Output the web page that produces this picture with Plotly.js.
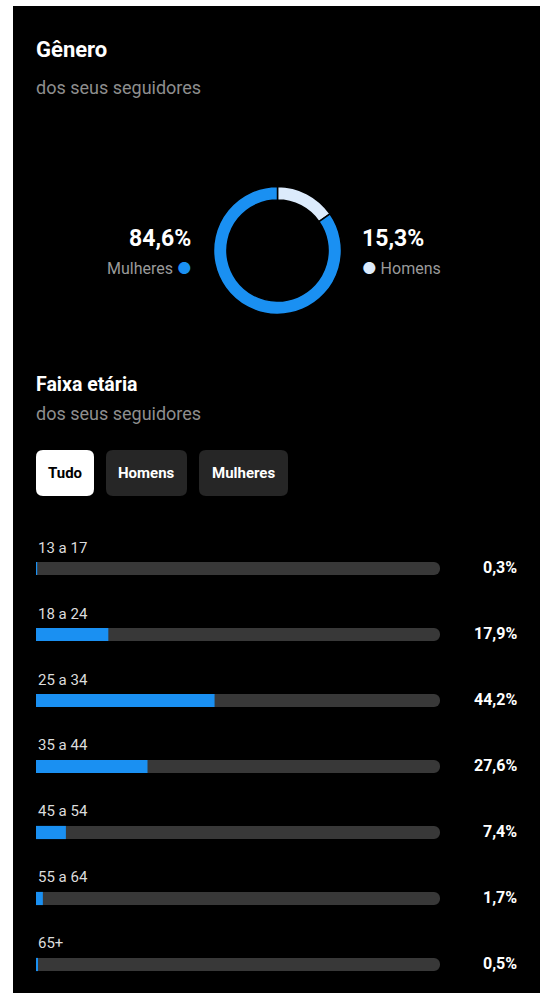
<!DOCTYPE html>
<html>
<head>
<meta charset="utf-8">
<script src="https://cdn.plot.ly/plotly-3.0.1.min.js"></script>
<style>
html,body{margin:0;padding:0;background:#ffffff;}
#chart{width:545px;height:993px;}
</style>
</head>
<body>
<div id="chart"></div>
<script>
// ---- data ----
const genderLabels = ['Homens', 'Mulheres'];
const genderPct = [15.3, 84.6];
const genderColors = ['#dcebfc', '#1a90f2'];

const ageGroups = ['13 a 17', '18 a 24', '25 a 34', '35 a 44', '45 a 54', '55 a 64', '65+'];
const agePct = [0.3, 17.9, 44.2, 27.6, 7.4, 1.7, 0.5];
const scaleMax = 100;

const filterTabs = ['Tudo', 'Homens', 'Mulheres'];

// ---- helpers ----
const W = 545, H = 993;
const px = x => x / W;
const py = y => 1 - y / H;
const fmt = v => v.toFixed(1).replace('.', ',') + '%';
const FONT = 'Roboto, Inter, "Noto Sans", sans-serif';
const BLUE = '#1a90f2';

function roundRect(x0, y0, x1, y1, r) {
  const rx = r / W, ry = r / H;
  const X0 = px(x0), X1 = px(x1), Y0 = py(y0), Y1 = py(y1);
  return `M ${X0 + rx} ${Y0} L ${X1 - rx} ${Y0} Q ${X1} ${Y0} ${X1} ${Y0 - ry} ` +
         `L ${X1} ${Y1 + ry} Q ${X1} ${Y1} ${X1 - rx} ${Y1} L ${X0 + rx} ${Y1} ` +
         `Q ${X0} ${Y1} ${X0} ${Y1 + ry} L ${X0} ${Y0 - ry} Q ${X0} ${Y0} ${X0 + rx} ${Y0} Z`;
}

// ---- traces ----
const donut = {
  type: 'pie',
  labels: genderLabels,
  values: genderPct,
  marker: { colors: genderColors, line: { color: '#000000', width: 1.5 } },
  hole: 0.79,
  sort: false,
  direction: 'clockwise',
  rotation: 0,
  textinfo: 'none',
  hoverinfo: 'skip',
  showlegend: false,
  domain: { x: [px(213.5), px(341.5)], y: [py(314.5), py(186.5)] }
};

const track = {
  type: 'bar',
  orientation: 'h',
  y: ageGroups,
  x: ageGroups.map(() => scaleMax),
  width: 0.2,
  marker: { color: '#383838', cornerradius: 7 },
  hoverinfo: 'skip',
  showlegend: false
};

const fill = {
  type: 'bar',
  orientation: 'h',
  y: ageGroups,
  x: agePct,
  width: 0.2,
  marker: { color: BLUE, cornerradius: 7 },
  hoverinfo: 'skip',
  showlegend: false
};

// ---- annotations ----
const annotations = [];
function txt(text, x, y, size, color, anchor, bold) {
  annotations.push({
    text: bold ? '<b>' + text + '</b>' : text,
    xref: 'paper', yref: 'paper', x: px(x), y: py(y),
    xanchor: anchor || 'left', yanchor: 'middle',
    showarrow: false,
    font: { family: FONT, size: size, color: color }
  });
}
txt('Gênero', 34, 50, 22, '#ffffff', 'left', true);
txt('dos seus seguidores', 34, 87, 18, '#8e8e8e', 'left');

txt(fmt(genderPct[1]), 193, 239, 23, '#ffffff', 'right', true);
txt(genderLabels[1] + ' <span style="color:' + genderColors[1] + '">●</span>', 194, 268, 16, '#9a9a9a', 'right');
txt(fmt(genderPct[0]), 360, 239, 23, '#ffffff', 'left', true);
txt('<span style="color:' + genderColors[0] + '">●</span> ' + genderLabels[0], 360, 268, 16, '#9a9a9a', 'left');

txt('Faixa etária', 34, 385, 19.5, '#ffffff', 'left', true);
txt('dos seus seguidores', 34, 413, 18, '#8e8e8e', 'left');

// filter tabs
const tabBoxes = [[36, 94], [106, 187], [199, 288]];
const shapes = [
  { type: 'rect', xref: 'paper', yref: 'paper', x0: px(13), x1: px(540), y0: 0, y1: py(6),
    fillcolor: '#000000', line: { width: 0 }, layer: 'below' }
];
filterTabs.forEach((t, i) => {
  const [a, b] = tabBoxes[i];
  shapes.push({ type: 'path', xref: 'paper', yref: 'paper', path: roundRect(a, 450, b, 496, 7),
    fillcolor: i === 0 ? '#ffffff' : '#262626', line: { width: 0 }, layer: 'below' });
  txt(t, (a + b) / 2, 473, 15, i === 0 ? '#000000' : '#ffffff', 'center', true);
});

// age labels and values
ageGroups.forEach((g, i) => {
  annotations.push({
    text: g, xref: 'x', yref: 'y', x: 0, y: g, xanchor: 'left', yanchor: 'middle',
    yshift: 21, showarrow: false, font: { family: FONT, size: 15, color: '#dcdcdc' }
  });
  annotations.push({
    text: '<b>' + fmt(agePct[i]) + '</b>', xref: 'paper', yref: 'y', x: px(519), y: g,
    xanchor: 'right', yanchor: 'middle', yshift: 1, showarrow: false,
    font: { family: FONT, size: 16, color: '#ffffff' }
  });
});

const layout = {
  width: W, height: H,
  margin: { l: 0, r: 0, t: 0, b: 0, pad: 0 },
  paper_bgcolor: '#ffffff',
  plot_bgcolor: 'rgba(0,0,0,0)',
  barmode: 'overlay',
  showlegend: false,
  xaxis: { domain: [px(36), px(440)], range: [0, scaleMax], showgrid: false, zeroline: false,
           showticklabels: false, showline: false, ticks: '', fixedrange: true },
  yaxis: { domain: [0, py(535.5)], type: 'category', categoryarray: ageGroups, categoryorder: 'array',
           range: [6.432, -0.5], showgrid: false, zeroline: false, showticklabels: false,
           showline: false, ticks: '', fixedrange: true },
  shapes: shapes,
  annotations: annotations,
  font: { family: FONT }
};

Plotly.newPlot('chart', [track, fill, donut], layout, { displayModeBar: false, staticPlot: true });
</script>
</body>
</html>
